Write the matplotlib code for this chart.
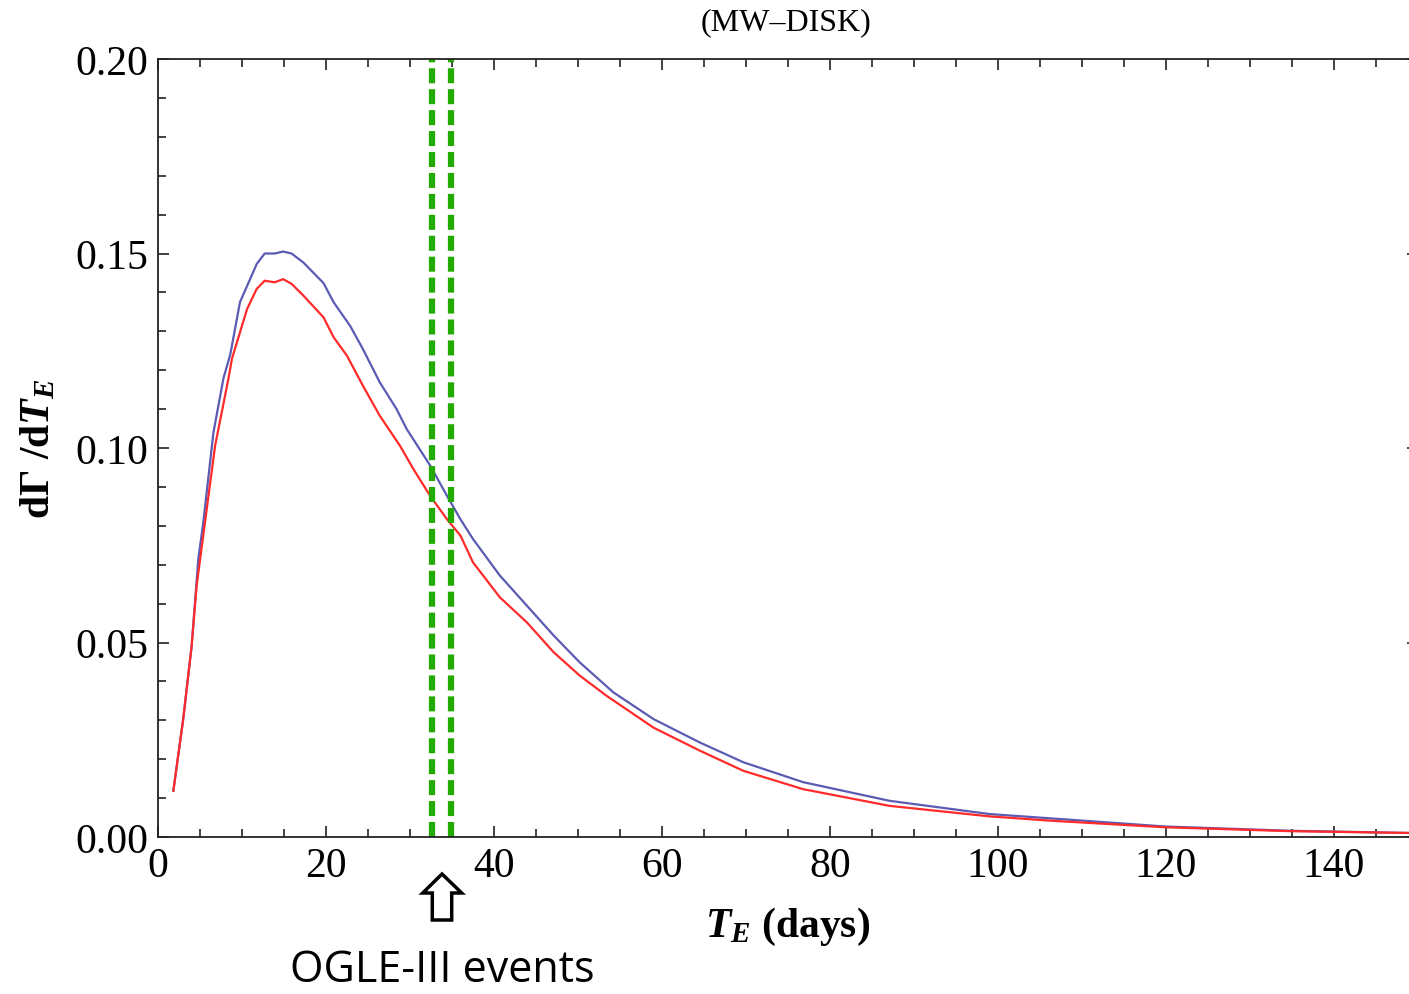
import matplotlib
matplotlib.use("Agg")
import matplotlib.pyplot as plt
from matplotlib.patches import Polygon
from matplotlib.ticker import MultipleLocator, FormatStrFormatter

plt.rcParams['mathtext.fontset'] = 'custom'
plt.rcParams['mathtext.rm'] = 'Liberation Serif:bold'
plt.rcParams['mathtext.it'] = 'Liberation Serif:italic:bold'
plt.rcParams['mathtext.bf'] = 'Liberation Serif:bold'

# ---- data ----
te_blue = [1.83, 3.0, 4.0, 4.8, 5.4, 6.6, 7.8, 8.6, 9.76, 11.75, 12.7, 13.9, 14.9, 15.9,
           17.3, 19.7, 20.9, 22.9, 24.4, 26.4, 28.4, 29.6, 32.4, 34.4, 36.0, 37.5, 40.7,
           43.9, 47.1, 50.2, 54.2, 59.0, 64.5, 69.7, 76.8, 87.1, 99.0, 106.2, 119.9, 134.8, 150.0]
rate_blue = [0.0119, 0.0303, 0.049, 0.0715, 0.081, 0.104, 0.118, 0.124, 0.1375, 0.1473, 0.150,
             0.150, 0.1505, 0.150, 0.1477, 0.1424, 0.1375, 0.1313, 0.1254, 0.1169, 0.110,
             0.1049, 0.0955, 0.0877, 0.0817, 0.0766, 0.0672, 0.0595, 0.0518, 0.0449, 0.0372,
             0.0303, 0.0243, 0.0192, 0.0141, 0.0093, 0.0059, 0.0048, 0.0027, 0.0016, 0.0010]

te_red = [1.83, 3.0, 4.0, 4.6, 5.6, 6.8, 8.4, 8.8, 10.6, 11.75, 12.7, 13.9, 14.9, 15.9,
          17.3, 19.7, 20.9, 22.5, 24.4, 26.4, 28.8, 30.4, 32.4, 34.4, 36.0, 37.5, 40.7,
          43.9, 47.1, 50.2, 53.4, 59.0, 64.5, 69.7, 76.8, 87.1, 99.0, 106.2, 119.9, 134.8, 150.0]
rate_red = [0.0119, 0.0303, 0.049, 0.0646, 0.081, 0.1006, 0.118, 0.1229, 0.1357, 0.1409, 0.143,
            0.1426, 0.1434, 0.1422, 0.1392, 0.1336, 0.1285, 0.1237, 0.116, 0.1083, 0.1006,
            0.0946, 0.0877, 0.0817, 0.0775, 0.0706, 0.0616, 0.0552, 0.0475, 0.0415, 0.0363,
            0.0281, 0.0222, 0.017, 0.0123, 0.0080, 0.0053, 0.0042, 0.0025, 0.0015, 0.0010]

ogle_te = [32.6, 34.9]

xticks = [0, 20, 40, 60, 80, 100, 120, 140]
yticks = [0.00, 0.05, 0.10, 0.15, 0.20]

W, H = 1409, 995
fig = plt.figure(figsize=(W / 100, H / 100), dpi=100)
ax = fig.add_axes([158 / W, (H - 838) / H, 1260 / W, 778 / H])

ax.plot(te_blue, rate_blue, color='#5b5bb4', lw=1.6)
ax.plot(te_red, rate_red, color='#ff2a2a', lw=1.6)
for xv in ogle_te:
    ax.axvline(xv, color='#22aa00', lw=4.5, dashes=(2.4, 0.95))

ax.set_xlim(0, 150)
ax.set_ylim(0, 0.2)
ax.set_xticks(xticks)
ax.set_yticks(yticks)
ax.xaxis.set_minor_locator(MultipleLocator(5))
ax.yaxis.set_minor_locator(MultipleLocator(0.01))
ax.yaxis.set_major_formatter(FormatStrFormatter('%.2f'))
ax.tick_params(which='both', direction='in', top=True, right=True, width=1.2, color='#222222')
ax.tick_params(which='major', length=8)
ax.tick_params(which='minor', length=5.5)
ax.tick_params(axis='both', which='major', labelsize=30, pad=7)
for lab in ax.get_xticklabels() + ax.get_yticklabels():
    lab.set_fontfamily('Liberation Serif')
for sp in ax.spines.values():
    sp.set_linewidth(1.3)
    sp.set_color('#222222')

ax.set_xlabel('$T_E$ (days)', fontfamily='Liberation Serif', fontweight='bold', fontsize=30, labelpad=14)
ax.set_ylabel('dΓ /d$T_E$', fontfamily='Liberation Serif', fontweight='bold', fontsize=30, labelpad=12)
fig.text(786 / W, 1 - 23 / H, '(MW–DISK)', fontfamily='Liberation Serif', fontsize=23,
         ha='center', va='center')

# hollow up arrow marking OGLE-III events
ax_pts = [(432.3, 921), (451.7, 921), (451.7, 894), (461.7, 894), (442, 875),
          (422.7, 894), (432.3, 894)]
arrow = Polygon([(x / W, 1 - y / H) for x, y in ax_pts], closed=True,
                transform=fig.transFigure, facecolor='white', edgecolor='black', lw=2.5)
fig.patches.append(arrow)
fig.text(442 / W, 1 - 971 / H, 'OGLE-III events', fontfamily='Open Sans', fontsize=31,
         ha='center', va='center')

fig.savefig('out.png', dpi=100)
